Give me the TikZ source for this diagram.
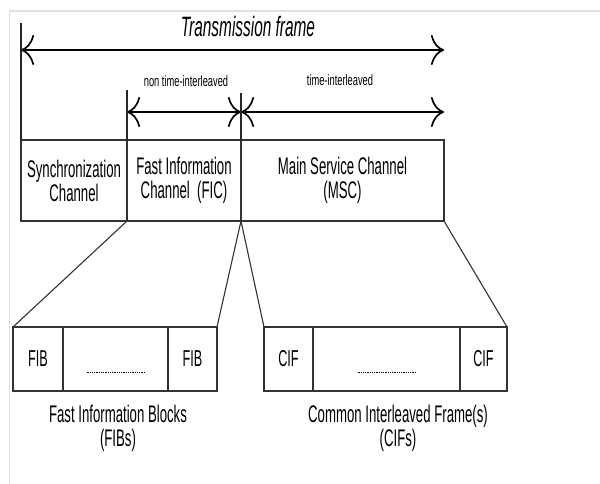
\documentclass[tikz,border=0pt]{standalone}
\usepackage{fontspec}
\setmainfont{Liberation Sans}[FakeStretch=0.55]
\newfontfamily\narrowfont{Liberation Sans}[FakeStretch=0.62]
\usetikzlibrary{positioning,arrows.meta}

\begin{document}
\begin{tikzpicture}[x=1pt, y=-1pt,
    >={To[length=13pt,width=30pt]},
    chanbox/.style={rectangle, draw=black!80, line width=1.3pt, inner sep=0pt, outer sep=0pt, minimum height=81pt, align=center, font=\fontsize{24}{24}\selectfont},
    subbox/.style={rectangle, draw=black!80, line width=1.3pt, inner sep=0pt, outer sep=0pt, minimum height=64pt, font=\fontsize{23}{24}\selectfont},
    dimarrow/.style={<->, line width=1.7pt},
    tick/.style={line width=1.1pt, black!85},
    caption/.style={align=center, font=\fontsize{24}{24}\selectfont},
    ]
    \useasboundingbox (0,0) rectangle (600,484);
    \draw[black!12, line width=1.2pt] (9.5,484) -- (9.5,11) -- (600,11);

    %Nodes
    \node[chanbox, minimum width=106pt] (sync) at (74,180.5)  {Synchronization\\Channel};
    \node[chanbox, minimum width=114pt] (fic)  at (184,180.5) {Fast Information\\Channel~~(FIC)};
    \node[chanbox, minimum width=203pt] (msc)  at (342.5,180.5) {Main Service Channel\\(MSC)};

    \node[subbox, minimum width=50pt]  (fiba)    at (38,359)    {FIB};
    \node[subbox, minimum width=105pt] (fibdots) at (115.5,359) {};
    \node[subbox, minimum width=49pt]  (fibb)    at (192.5,359) {FIB};

    \node[subbox, minimum width=49pt]  (cifa)    at (288.5,359) {CIF};
    \node[subbox, minimum width=147pt] (cifdots) at (386.5,359) {};
    \node[subbox, minimum width=47pt]  (cifb)    at (483.5,359) {CIF};

    \node[caption] (fiblabel) at (118,428) {Fast Information Blocks\\(FIBs)};
    \node[caption] (ciflabel) at (398,428) {Common Interleaved Frame(s)\\(CIFs)};

    \node[font=\fontsize{28}{28}\selectfont\itshape] (tftext) at (248,26) {Transmission frame};
    \node[font=\narrowfont\fontsize{15}{16}\selectfont] (ntitext) at (186,81) {non time-interleaved};
    \node[font=\narrowfont\fontsize{15}{16}\selectfont] (titext)  at (340,80) {time-interleaved};

    %Coordinates
    \coordinate (tfl)  at (21,50);
    \coordinate (tfr)  at (444,50);
    \coordinate (tftop) at (21,23);
    \coordinate (ntil) at (127,112);
    \coordinate (ntitop) at (127,90);
    \coordinate (mid)  at (241,112);
    \coordinate (midtop) at (241,93);
    \coordinate (tir)  at (444,112);

    %Lines
    \draw[dimarrow] (tfl) -- (tfr);
    \draw[dimarrow] (ntil) -- (mid);
    \draw[dimarrow] (mid) -- (tir);
    \draw[tick] (tftop) -- (sync.north west);
    \draw[tick] (ntitop) -- (fic.north west);
    \draw[tick] (midtop) -- (fic.north east);

    \draw[black!80, line width=1.1pt] (fic.south west) -- (fiba.north west);
    \draw[black!80, line width=1.1pt] (fic.south east) -- (fibb.north east);
    \draw[black!80, line width=1.1pt] (fic.south east) -- (cifa.north west);
    \draw[black!80, line width=1.1pt] (msc.south east) -- (cifb.north east);

    \draw[densely dotted, line width=0.8pt] ([xshift=-29pt,yshift=-13pt]fibdots.center) -- ([xshift=29pt,yshift=-13pt]fibdots.center);
    \draw[densely dotted, line width=0.8pt] ([xshift=-29pt,yshift=-13pt]cifdots.center) -- ([xshift=29pt,yshift=-13pt]cifdots.center);

    \end{tikzpicture}
\end{document}
